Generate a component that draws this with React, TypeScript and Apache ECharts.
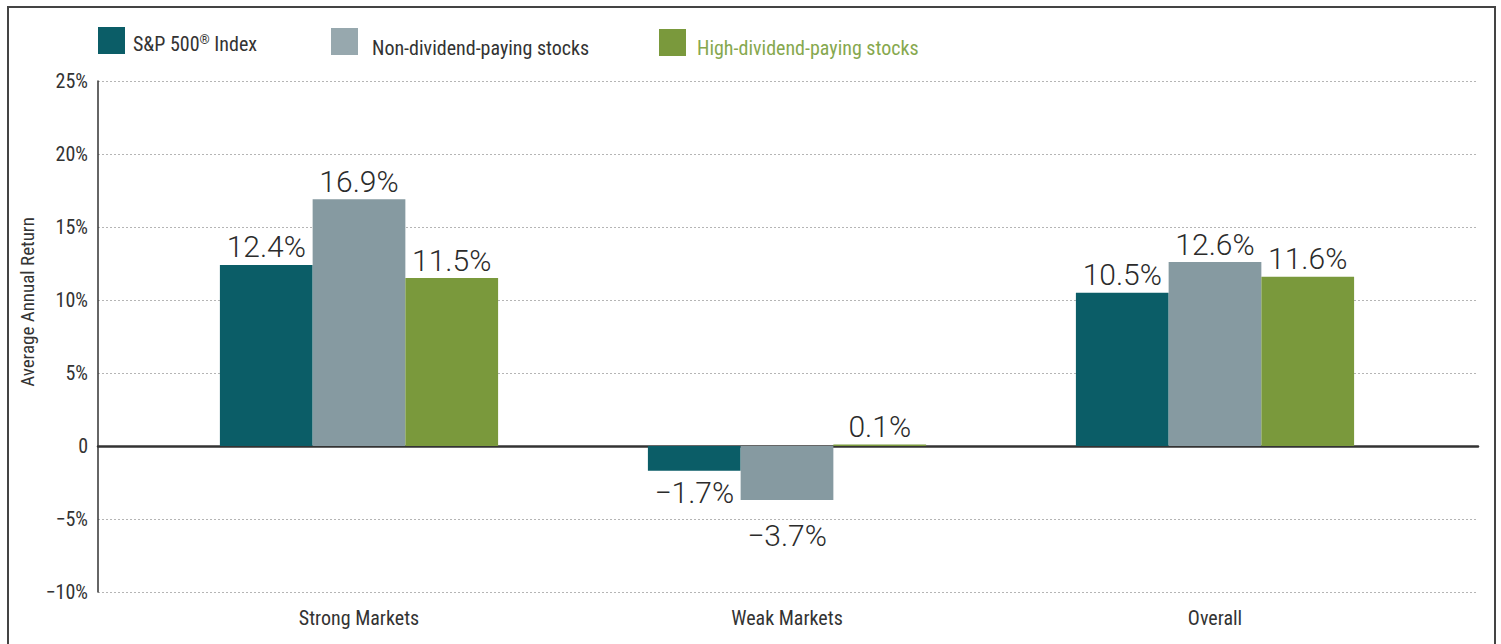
import React, { useEffect, useRef } from "react";
import * as echarts from "echarts";

const categories = ["Strong Markets", "Weak Markets", "Overall"];
const seriesNames = ["S&P 500® Index", "Non-dividend-paying stocks", "High-dividend-paying stocks"];
const sp500 = [12.4, -1.7, 10.5];
const nonDividend = [16.9, -3.7, 12.6];
const highDividend = [11.5, 0.1, 11.6];
const yTicks = [-10, -5, 0, 5, 10, 15, 20, 25];

const COLORS = ["#0b5d67", "#869aa1", "#7a993c"];
const LEGEND_COLORS = ["#0b5d67", "#97a8ae", "#7a993c"];
const NARROW = "'Liberation Sans Narrow', 'Roboto Condensed', 'Arial Narrow', sans-serif";
const LIGHT = "Roboto, 'Liberation Sans', Arial, sans-serif";

const fmtTick = (v: number) => (v === 0 ? "0" : v < 0 ? "\u2212" + Math.abs(v) + "%" : v + "%");
const fmtVal = (v: number) => (v < 0 ? "\u2212" + Math.abs(v).toFixed(1) + "%" : v.toFixed(1) + "%");

export default function App() {
  const ref = useRef<HTMLDivElement>(null);
  useEffect(() => {
    document.body.style.margin = "0";
    if (!ref.current) return;
    const chart = echarts.init(ref.current, undefined, { renderer: "svg" });
    const all = [sp500, nonDividend, highDividend];
    const negDist: Record<string, number> = { "0-1": 7, "1-1": 20 };
    const series = all.map((vals, si) => ({
      name: seriesNames[si],
      type: "bar",
      xAxisIndex: 1,
      yAxisIndex: 1,
      barGap: "0%",
      barCategoryGap: "35%",
      itemStyle: { color: COLORS[si] },
      data: vals.map((v, ci) => ({
        value: v,
        label: {
          show: true,
          position: v < 0 ? "bottom" : "top",
          distance: v < 0 ? negDist[si + "-" + ci] ?? 8 : 3,
          formatter: () => fmtVal(v),
          fontFamily: LIGHT,
          fontWeight: 300,
          fontSize: 30,
          color: "#2b2b2b",
        },
      })),
    }));
    const legendX = [98, 331, 659];
    const legendGraphic: any[] = [];
    seriesNames.forEach((n, i) => {
      legendGraphic.push({
        type: "rect",
        shape: { x: legendX[i], y: 27 + i, width: 27, height: 27 },
        style: { fill: LEGEND_COLORS[i] },
      });
      if (i === 0) {
        legendGraphic.push({
          type: "text",
          x: legendX[i] + 35,
          y: 44,
          style: {
            text: "{a|S&P 500}{s|®}{a| Index}",
            verticalAlign: "middle",
            rich: {
              a: { fontFamily: NARROW, fontSize: 20, fill: "#333" },
              s: { fontFamily: NARROW, fontSize: 13, fill: "#333", verticalAlign: "top", padding: [0, 0, 9, 0] },
            },
          },
        });
      } else {
        legendGraphic.push({
          type: "text",
          x: legendX[i] + (i === 1 ? 41 : 38),
          y: 48,
          style: {
            text: n,
            fontFamily: NARROW,
            fontSize: 20,
            fill: i === 2 ? "#86a84e" : "#333",
            verticalAlign: "middle",
          },
        });
      }
    });
    chart.setOption({
      animation: false,
      grid: [
        { left: 98, right: 23, top: 81, bottom: 52 },
        { left: 145, right: 72, top: 81, bottom: 52 },
      ],
      xAxis: [
        {
          type: "category",
          gridIndex: 0,
          data: ["", ""],
          axisLine: { onZero: true, lineStyle: { color: "#333", width: 2.5 } },
          axisTick: { show: false },
          axisLabel: { show: false },
        },
        {
          type: "category",
          gridIndex: 1,
          data: categories,
          axisLine: { show: false, onZero: false },
          axisTick: { show: false },
          axisLabel: { fontFamily: NARROW, fontSize: 20, color: "#333", margin: 16 },
        },
      ],
      yAxis: [
        {
          type: "value",
          gridIndex: 0,
          min: -10,
          max: 25,
          interval: 5,
          axisLine: { show: true, lineStyle: { color: "#333", width: 1.5 } },
          axisTick: { show: false },
          axisLabel: {
            fontFamily: NARROW,
            fontSize: 20,
            color: "#333",
            margin: 10,
            formatter: (v: number) => (yTicks.includes(v) ? fmtTick(v) : ""),
          },
          splitLine: { show: true, lineStyle: { color: "#b5b5b5", type: [2, 2], width: 1 } },
        },
        {
          type: "value",
          gridIndex: 1,
          min: -10,
          max: 25,
          interval: 5,
          show: false,
          splitLine: { show: false },
        },
      ],
      series,
      graphic: [
        {
          type: "polyline",
          shape: { points: [[8, 644], [8, 7], [1495, 7], [1495, 644]] },
          style: { stroke: "#444", lineWidth: 2, fill: "none" },
          silent: true,
        },
        {
          type: "text",
          x: 27,
          y: 302,
          rotation: Math.PI / 2,
          style: {
            text: "Average Annual Return",
            fontFamily: NARROW,
            fontSize: 19,
            fill: "#333",
            align: "center",
            verticalAlign: "middle",
          },
        },
        ...legendGraphic,
      ],
    });
    return () => chart.dispose();
  }, []);
  return <div ref={ref} style={{ width: 1501, height: 644 }} />;
}
